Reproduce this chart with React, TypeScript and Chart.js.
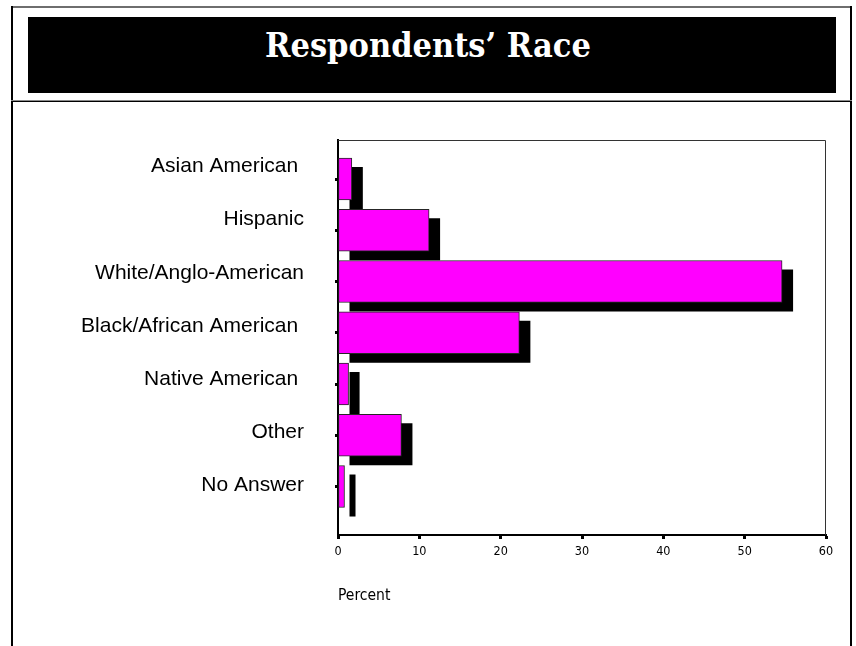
import React, { useEffect, useRef } from "react";
import { Chart, registerables } from "chart.js";

Chart.register(...registerables);

// Survey categories, listed top to bottom
const categories = [
  "Asian American ",
  "Hispanic",
  "White/Anglo-American",
  "Black/African American ",
  "Native American ",
  "Other",
  "No Answer",
];
// Share of respondents in each category, percent
const percents = [1.7, 11.2, 54.6, 22.3, 1.3, 7.8, 0.8];
const percentTicks = [0, 10, 20, 30, 40, 50, 60];
const chartTitle = "Respondents’ Race";
const axisTitle = "Percent";

const W = 856;
const H = 646;

// Solid black drop shadow behind every bar, offset down and to the right
const barShadow = {
  id: "barShadow",
  beforeDatasetsDraw(chart: any) {
    const { ctx } = chart;
    const meta = chart.getDatasetMeta(0);
    ctx.save();
    ctx.fillStyle = "#000";
    meta.data.forEach((bar: any) => {
      const { x, y, base, height } = bar.getProps(["x", "y", "base", "height"], true);
      ctx.fillRect(base + 11, y - height / 2 + 9, x - base, height);
    });
    ctx.restore();
  },
};

// Thin outline along the top and right of the plot box
const plotFrame = {
  id: "plotFrame",
  afterDraw(chart: any) {
    const { ctx, chartArea } = chart;
    const { left, right, top, bottom } = chartArea;
    ctx.save();
    ctx.strokeStyle = "#333";
    ctx.lineWidth = 1;
    ctx.beginPath();
    ctx.moveTo(left, top + 0.5);
    ctx.lineTo(right - 0.5, top + 0.5);
    ctx.lineTo(right - 0.5, bottom);
    ctx.stroke();
    ctx.restore();
  },
};

const narrowFont = "'Liberation Sans Narrow', 'Arial Narrow', 'DejaVu Sans Condensed', sans-serif";

function RaceChart() {
  const canvasRef = useRef<HTMLCanvasElement | null>(null);

  useEffect(() => {
    const canvas = canvasRef.current;
    if (!canvas) return;
    const rows = percents.map((v, i) => ({ x: v, y: i }));
    const indexTicks = (scale: any) => {
      scale.ticks = categories.map((_, i) => ({ value: i }));
    };

    const chart = new Chart(canvas, {
      type: "bar",
      data: {
        datasets: [
          {
            data: rows as any,
            backgroundColor: "#ff00ff",
            borderColor: "#262626",
            borderWidth: 1,
            borderSkipped: false,
            barThickness: 42,
            xAxisID: "x",
            yAxisID: "y",
          },
        ],
      },
      options: {
        indexAxis: "y",
        responsive: false,
        animation: false,
        devicePixelRatio: 1,
        layout: { padding: { top: 140, right: 30, left: 0, bottom: 0 } },
        plugins: {
          legend: { display: false },
          tooltip: { enabled: false },
          title: { display: false },
        },
        scales: {
          x: {
            type: "linear",
            position: "bottom",
            min: percentTicks[0],
            max: percentTicks[percentTicks.length - 1],
            afterBuildTicks: (scale: any) => {
              scale.ticks = percentTicks.map((v) => ({ value: v }));
            },
            afterFit: (scale: any) => {
              scale.height = 111;
            },
            grid: {
              drawOnChartArea: false,
              drawTicks: true,
              tickLength: 4,
              tickWidth: 3,
              tickColor: "#000",
            },
            border: { display: true, color: "#000", width: 2 },
            ticks: {
              padding: 5,
              color: "#000",
              font: { family: narrowFont, size: 12.5 },
            },
            title: {
              display: true,
              text: axisTitle,
              align: "start",
              color: "#000",
              font: { family: narrowFont, size: 15.5 },
              padding: { top: 0, bottom: 41 },
            },
          },
          y: {
            type: "linear",
            position: "left",
            weight: 0,
            reverse: true,
            offset: false,
            min: -0.761,
            max: 6.946,
            afterBuildTicks: indexTicks,
            afterFit: (scale: any) => {
              scale.width = 3;
            },
            grid: {
              offset: false,
              drawOnChartArea: false,
              drawTicks: true,
              tickLength: 3,
              tickWidth: 3,
              tickColor: "#000",
            },
            border: { display: true, color: "#000", width: 2 },
            ticks: { display: false },
          },
          yl: {
            type: "linear",
            position: "left",
            weight: 10,
            reverse: true,
            offset: false,
            min: -0.498,
            max: 6.93,
            afterBuildTicks: indexTicks,
            afterFit: (scale: any) => {
              scale.width = 335;
            },
            grid: { display: false, offset: false },
            border: { display: false },
            ticks: {
              autoSkip: false,
              padding: 23,
              color: "#000",
              font: { family: "'Liberation Sans', Arial, sans-serif", size: 21 },
              callback: (v: any) => categories[v as number] ?? "",
            },
          },
        },
      },
      plugins: [barShadow, plotFrame],
    });

    return () => chart.destroy();
  }, []);

  return (
    <canvas
      ref={canvasRef}
      width={W}
      height={H}
      style={{ position: "absolute", left: 0, top: 0, width: W, height: H }}
    />
  );
}

export default function App() {
  return (
    <div
      style={{
        position: "absolute",
        left: 0,
        top: 0,
        width: W,
        height: H,
        background: "#fff",
        overflow: "hidden",
      }}
    >
      <RaceChart />
      {/* page frame */}
      <div style={{ position: "absolute", left: 11, top: 6, width: 841, height: 2, background: "#6e6e6e" }} />
      <div style={{ position: "absolute", left: 11, top: 6, width: 2, height: H - 6, background: "#000" }} />
      <div style={{ position: "absolute", left: 850, top: 6, width: 2, height: H - 6, background: "#000" }} />
      <div style={{ position: "absolute", left: 11, top: 100, width: 841, height: 1, background: "#8a8a8a" }} />
      <div style={{ position: "absolute", left: 11, top: 101, width: 841, height: 1, background: "#000" }} />
      {/* title banner */}
      <div style={{ position: "absolute", left: 28, top: 17, width: 808, height: 76, background: "#000" }} />
      <div
        style={{
          position: "absolute",
          left: 0,
          top: 28,
          width: W,
          textAlign: "center",
          color: "#fff",
          fontFamily: "'DejaVu Serif Condensed', 'DejaVu Serif', serif",
          fontWeight: 700,
          fontSize: 34,
          lineHeight: "34px",
          whiteSpace: "nowrap",
        }}
      >
        {chartTitle}
      </div>
    </div>
  );
}
